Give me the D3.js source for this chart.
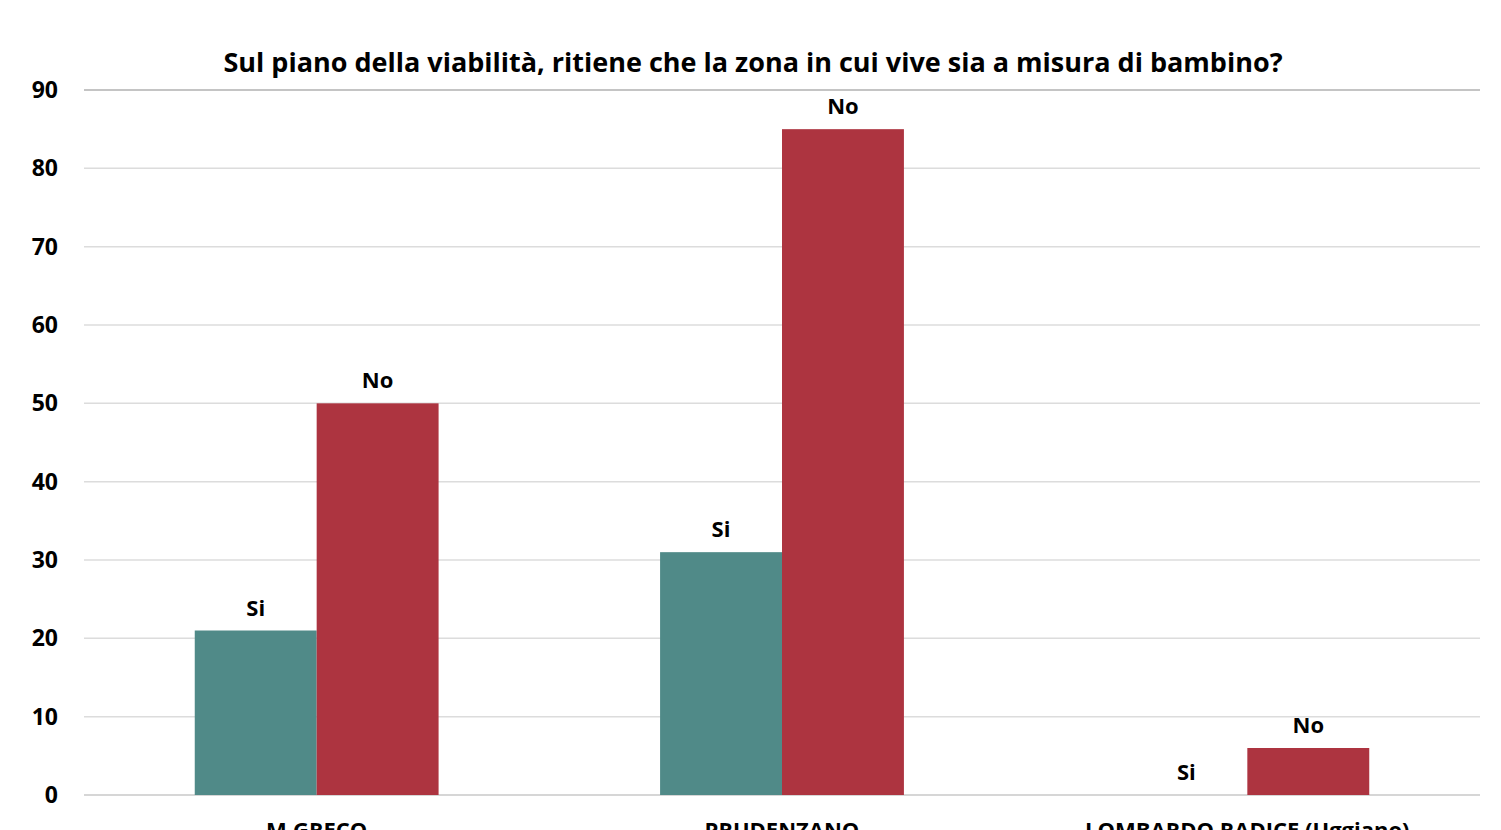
<!DOCTYPE html>
<html>
<head>
<meta charset="utf-8">
<script src="https://cdn.jsdelivr.net/npm/d3@7"></script>
<style>
  body { margin: 0; background: #fff; }
  text { font-family: "Open Sans", "Noto Sans", sans-serif; font-weight: bold; fill: #000; }
</style>
</head>
<body>
<svg id="chart" width="1501" height="830"></svg>
<script>
const title = "Sul piano della viabilità, ritiene che la zona in cui vive sia a misura di bambino?";
const categories = ["M.GRECO", "PRUDENZANO", "LOMBARDO RADICE (Uggiano)"];
const seriesNames = ["Si", "No"];
const siValues = [21, 31, 0];
const noValues = [50, 85, 6];
const yTicks = [0, 10, 20, 30, 40, 50, 60, 70, 80, 90];
const colors = ["#508A88", "#AD3440"];

let svg = d3.select("#chart"),
    margin = {top: 90, right: 21, bottom: 35, left: 84},
    width = 1501 - margin.left - margin.right,
    height = 830 - margin.top - margin.bottom;

let g = svg.append("g").attr("transform", "translate(" + margin.left + "," + margin.top + ")");

let x = d3.scaleBand().domain(categories).range([0, width]).paddingInner(0.476).paddingOuter(0.238);
let xs = d3.scaleBand().domain(seriesNames).range([0, x.bandwidth()]);
let y = d3.scaleLinear().domain([0, 90]).range([height, 0]);

// gridlines
g.selectAll("line.grid")
    .data(yTicks)
    .enter().append("line")
    .attr("class", "grid")
    .attr("x1", 0).attr("x2", width)
    .attr("y1", d => y(d)).attr("y2", d => y(d))
    .attr("stroke", d => (d === 90 ? "#b0b0b0" : d === 0 ? "#c8c8c8" : "#dcdcdc"))
    .attr("stroke-width", 1.5);

// y axis labels
let yAxis = g.append("g").call(d3.axisLeft(y).tickValues(yTicks).tickSize(0).tickPadding(26));
yAxis.select(".domain").remove();
yAxis.selectAll("text").style("font-size", "23px").attr("fill", "#000");

let rows = categories.map((c, i) => ({cat: c, values: [siValues[i], noValues[i]]}));

let groups = g.selectAll("g.group")
    .data(rows)
    .enter().append("g")
    .attr("class", "group")
    .attr("transform", d => "translate(" + x(d.cat) + ",0)");

groups.selectAll("rect")
    .data(d => d.values.map((v, j) => ({name: seriesNames[j], value: v, j: j})))
    .enter().append("rect")
    .attr("x", d => xs(d.name))
    .attr("y", d => y(d.value))
    .attr("width", xs.bandwidth())
    .attr("height", d => height - y(d.value))
    .attr("fill", d => colors[d.j]);

groups.selectAll("text.lbl")
    .data(d => d.values.map((v, j) => ({name: seriesNames[j], value: v})))
    .enter().append("text")
    .attr("class", "lbl")
    .attr("x", d => xs(d.name) + xs.bandwidth() / 2)
    .attr("y", d => y(d.value) - 15)
    .attr("text-anchor", "middle")
    .style("font-size", "22px")
    .text(d => d.name);

// category labels (partly cut at bottom edge, as in the source image)
g.selectAll("text.cat")
    .data(categories)
    .enter().append("text")
    .attr("class", "cat")
    .attr("x", d => x(d) + x.bandwidth() / 2)
    .attr("y", height + 43)
    .attr("text-anchor", "middle")
    .style("font-size", "22px")
    .text(d => d);

svg.append("text")
    .attr("x", 753)
    .attr("y", 72)
    .attr("text-anchor", "middle")
    .style("font-size", "27px")
    .text(title);
</script>
</body>
</html>
